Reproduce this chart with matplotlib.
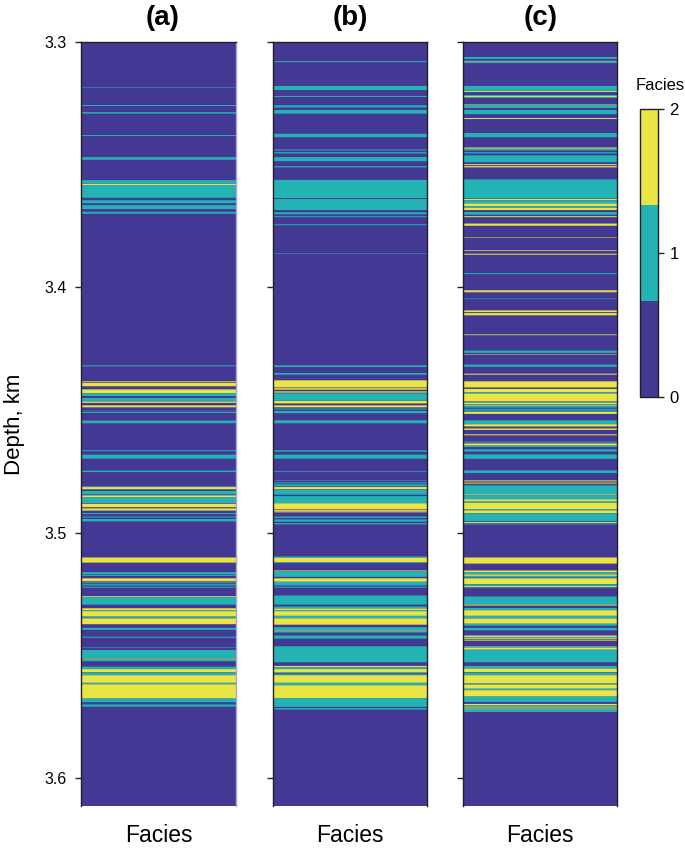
import matplotlib
matplotlib.use("Agg")
import matplotlib.pyplot as plt
from matplotlib.colors import ListedColormap, Normalize
from matplotlib.cm import ScalarMappable

plt.rcParams['font.family'] = ['Liberation Sans', 'DejaVu Sans']

# (top depth m, base depth m, facies); everything else is facies 0
bands_a = [
 (3318.56,3318.76,1),(3325.7,3326.1,1),(3328.6,3329.2,1),(3337.9,3338.3,1),(3346.9,3348.0,1),
 (3356.3,3357.7,1),(3357.8,3358.3,2),(3358.3,3363.5,1),(3364.5,3365.7,1),(3366.5,3368.1,1),(3369.2,3370.0,1),
 (3431.8,3432.2,1),(3438.3,3438.7,2),(3439.0,3440.3,2),(3441.6,3443.2,2),(3443.2,3444.3,1),(3445.1,3446.3,1),
 (3446.5,3447.1,2),(3448.1,3448.9,2),(3450.3,3450.5,1),(3450.8,3451.2,1),(3454.3,3455.4,1),(3466.4,3466.8,1),
 (3468.2,3469.8,1),(3474.7,3475.3,1),(3481.1,3481.4,1),(3481.4,3482.3,2),(3483.0,3484.4,1),(3484.8,3485.6,2),
 (3485.6,3487.9,1),(3488.2,3489.6,2),(3490.1,3491.0,2),(3492.0,3492.4,1),(3493.4,3493.8,1),(3494.4,3495.4,1),
 (3510.1,3512.2,2),(3516.1,3517.0,1),(3517.2,3517.6,1),(3518.6,3519.8,2),(3520.2,3520.6,1),(3521.0,3521.5,1),
 (3522.0,3522.4,1),(3525.9,3526.3,2),(3526.3,3529.3,1),(3530.8,3531.7,2),(3531.7,3532.0,1),(3532.0,3534.2,2),
 (3534.2,3534.7,1),(3534.9,3537.3,2),(3538.8,3539.6,1),(3542.4,3542.8,1),(3546.6,3546.8,1),(3547.8,3551.2,1),
 (3551.3,3551.7,2),(3551.7,3552.4,1),(3554.6,3555.6,1),(3555.6,3556.9,2),(3557.0,3558.1,1),(3558.1,3561.2,2),
 (3561.2,3561.8,1),(3561.8,3567.6,2),(3567.6,3569.1,1),(3570.0,3570.9,1),
]
bands_b = [
 (3307.8,3308.2,1),(3317.9,3319.6,1),(3322.0,3322.4,1),(3325.8,3326.7,1),(3327.7,3329.2,1),(3337.4,3338.8,1),
 (3343.8,3344.2,1),(3344.9,3345.4,1),(3346.9,3348.6,1),(3350.6,3351.1,1),(3356.2,3363.6,1),(3364.0,3368.5,1),
 (3369.4,3370.2,1),(3371.0,3371.4,1),(3374.3,3374.7,1),(3386.2,3386.4,1),
 (3431.8,3432.5,1),(3434.9,3435.6,1),(3437.9,3440.8,2),(3441.1,3441.7,2),(3442.4,3442.9,2),(3443.2,3446.2,1),
 (3446.3,3447.3,2),(3448.1,3448.9,2),(3449.4,3449.8,1),(3450.4,3451.3,1),(3454.2,3455.4,1),(3466.4,3467.0,1),
 (3468.2,3469.8,1),(3475.0,3475.3,1),(3478.7,3478.9,1),(3479.5,3479.9,1),(3480.3,3481.1,1),(3481.4,3482.3,2),
 (3482.5,3484.5,1),(3485.1,3488.0,1),(3488.0,3490.5,2),(3490.8,3491.2,2),(3491.3,3491.7,2),(3493.4,3494.0,1),
 (3494.6,3495.5,1),(3496.1,3496.6,1),
 (3509.7,3510.2,1),(3510.2,3512.0,2),(3512.0,3512.4,1),(3515.4,3515.8,2),(3515.8,3518.0,1),(3518.6,3520.0,2),
 (3520.0,3521.5,1),(3522.0,3522.4,1),(3525.6,3529.3,1),(3530.1,3530.9,1),(3530.9,3531.5,2),(3531.5,3532.0,1),
 (3532.0,3533.9,2),(3533.9,3534.9,1),(3534.9,3537.5,2),(3538.5,3539.9,1),(3539.9,3540.3,2),(3540.3,3540.7,1),
 (3541.9,3543.2,1),(3546.3,3552.8,1),(3554.3,3554.9,2),(3554.9,3555.6,1),(3555.6,3557.0,2),(3557.0,3557.3,1),
 (3557.7,3558.1,1),(3558.1,3561.2,2),(3561.2,3562.2,1),(3562.2,3567.5,2),(3567.5,3571.0,1),(3571.5,3572.1,1),
]
bands_c = [
 (3306.1,3306.9,1),(3307.6,3307.9,1),(3307.9,3308.1,2),(3308.2,3308.6,1),(3317.9,3319.9,1),(3320.0,3320.4,2),
 (3321.6,3322.0,1),(3322.0,3322.4,2),(3322.4,3322.8,1),(3325.4,3325.6,2),(3325.7,3326.9,1),(3327.7,3329.4,1),
 (3331.0,3331.4,2),(3337.1,3338.8,1),(3343.0,3343.5,2),(3343.5,3344.2,1),(3344.9,3345.4,1),(3346.2,3349.0,1),
 (3349.8,3350.2,2),(3350.6,3351.1,2),(3356.0,3363.8,1),(3364.0,3364.5,2),(3364.5,3365.8,1),(3365.8,3366.9,2),
 (3366.9,3367.6,1),(3367.6,3368.5,2),(3369.3,3370.4,1),(3371.0,3371.4,2),(3374.0,3374.9,2),(3379.7,3379.9,2),
 (3384.9,3385.2,2),(3386.3,3386.7,2),(3394.2,3394.6,1),(3401.2,3402.0,2),(3404.6,3404.8,1),(3409.4,3410.1,2),
 (3410.5,3411.4,2),(3419.2,3419.5,2),(3425.8,3426.7,1),(3427.3,3427.5,2),(3431.5,3432.4,1),
 (3435.2,3435.6,2),(3438.3,3440.8,2),(3441.4,3442.8,2),(3442.8,3443.3,1),(3443.3,3446.5,2),(3446.7,3447.1,1),
 (3447.1,3447.7,2),(3447.7,3448.1,1),(3448.1,3448.5,2),(3448.5,3449.0,1),(3449.5,3449.9,1),(3450.1,3450.7,1),
 (3450.8,3451.6,2),(3454.2,3455.8,1),(3455.8,3456.7,2),(3457.5,3458.1,2),(3459.9,3460.3,2),(3462.8,3463.2,1),
 (3463.6,3464.5,2),(3464.5,3465.1,1),(3466.0,3466.9,1),(3468.1,3469.9,1),(3474.6,3475.7,1),(3478.7,3479.1,2),
 (3479.6,3480.0,2),(3480.7,3484.4,1),(3484.4,3484.8,2),(3484.8,3486.4,1),(3486.4,3487.3,2),(3487.4,3487.9,1),
 (3487.9,3490.5,2),(3490.5,3490.9,1),(3490.9,3492.0,2),(3492.1,3495.3,1),(3495.6,3496.0,2),(3496.2,3496.6,1),
 (3510.1,3512.6,2),(3515.4,3516.2,2),(3516.2,3517.0,1),(3517.0,3517.6,2),(3517.7,3518.3,1),(3518.6,3521.0,2),
 (3521.1,3521.7,1),(3521.7,3522.1,2),(3522.1,3522.4,1),(3526.0,3529.3,1),(3529.3,3529.7,2),(3530.7,3531.5,1),
 (3531.6,3533.9,2),(3533.9,3535.0,1),(3535.0,3537.1,2),(3537.1,3537.9,1),(3538.8,3539.8,1),(3541.9,3542.5,2),
 (3542.5,3543.0,1),(3543.0,3543.3,2),(3543.6,3544.0,2),(3546.2,3546.8,1),(3546.8,3547.7,2),(3547.7,3552.8,1),
 (3554.3,3555.4,1),(3555.4,3556.8,2),(3557.0,3558.1,1),(3558.1,3561.4,2),(3561.4,3561.9,1),(3561.9,3563.6,2),
 (3563.6,3564.2,1),(3564.2,3566.8,2),(3566.8,3569.0,1),(3569.8,3570.4,2),(3570.4,3570.9,1),(3570.9,3571.3,2),
 (3571.3,3571.7,1),(3571.7,3572.1,2),(3572.1,3573.1,1),
]
panel_titles = ['(a)', '(b)', '(c)']
depth_ticks = [3.3, 3.4, 3.5, 3.6]
facies_colors = ['#443895', '#24b3b4', '#e8e545']
W, H = 685, 850
EDGE = '#231f20'

def rect(x0, y0, x1, y1):
    return [x0/W, 1-y1/H, (x1-x0)/W, (y1-y0)/H]

fig = plt.figure(figsize=(W/100, H/100), dpi=100)
boxes = [(81, 236), (273, 427), (463, 617)]
title_x = [0.523, 0.505, 0.505]
for i, (bands, title, box) in enumerate(zip([bands_a, bands_b, bands_c], panel_titles, boxes)):
    ax = fig.add_axes(rect(box[0], 42, box[1], 806))
    ax.set_facecolor(facies_colors[0])
    for top, base, fac in bands:
        bar = ax.barh((top+base)/2000, 1, height=(base-top)/1000, left=0,
                      color=facies_colors[fac], linewidth=0, antialiased=True)
        for p in bar:
            p.set_snap(False)
    ax.set_xlim(0, 1)
    ax.set_ylim(3.6114, 3.3)
    ax.set_xticks([])
    ax.set_yticks(depth_ticks)
    ax.tick_params(axis='y', length=4.3, width=1.0, color=EDGE, labelsize=11.5, pad=6,
                   labelleft=(i == 0), labelcolor='black')
    if i == 0:
        ax.set_yticklabels(['%.1f' % t for t in depth_ticks])
    for s in ax.spines.values():
        s.set_linewidth(1.0)
        s.set_color(EDGE)
    ax.spines['bottom'].set_visible(False)
    if i == 0:
        ax.spines['right'].set_color('#a9a3d6')
    ax.set_xlabel('Facies', fontsize=16.5)
    ax.xaxis.set_label_coords(0.5, -30/764)
    ax.xaxis.label.set_va('center')
    ax.set_title(title, fontsize=20, fontweight='bold', pad=12, x=title_x[i])
    if i == 0:
        ax.set_ylabel('Depth, km', fontsize=16)
        ax.yaxis.set_label_coords(-66/155, 0.5)
        ax.yaxis.label.set_va('center')

cax = fig.add_axes(rect(640, 109, 658, 397))
cmap = ListedColormap(facies_colors)
cb = fig.colorbar(ScalarMappable(norm=Normalize(0, 2), cmap=cmap), cax=cax, ticks=[0, 1, 2])
cb.ax.tick_params(length=4.3, width=1.0, color=EDGE, labelsize=12, pad=4)
cb.outline.set_linewidth(1.0)
cb.outline.set_edgecolor(EDGE)
cb.ax.set_title('Facies', fontsize=12, pad=14, x=1.1)

fig.savefig('out.png', dpi=100)
